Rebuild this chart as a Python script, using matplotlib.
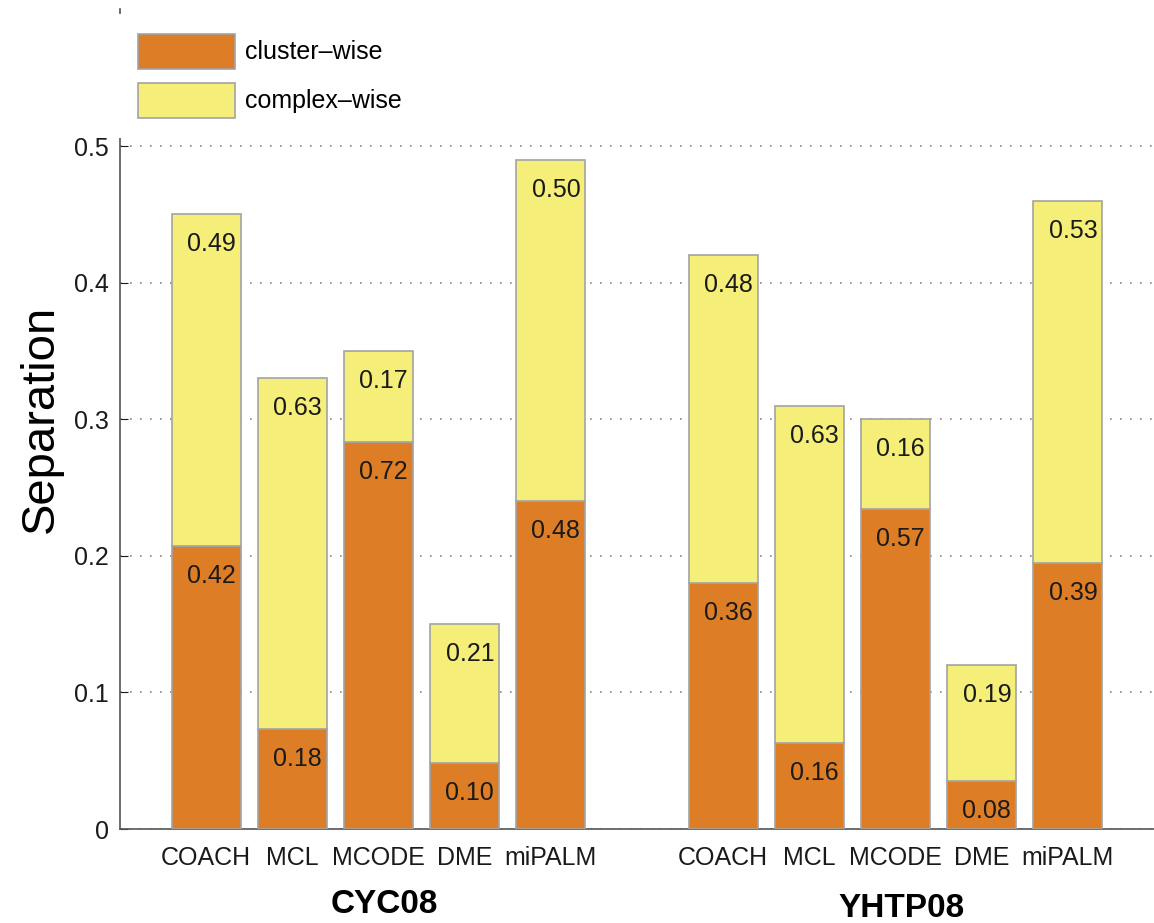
import numpy as np
import matplotlib
matplotlib.use("Agg")
import matplotlib.pyplot as plt

plt.rcParams['font.family'] = ['Liberation Sans', 'DejaVu Sans']

methods = ["COACH", "MCL", "MCODE", "DME", "miPALM"]
datasets = ["CYC08", "YHTP08"]

# bar heights (separation) per dataset
cluster_cyc = [0.207, 0.073, 0.283, 0.048, 0.240]
total_cyc = [0.450, 0.330, 0.350, 0.150, 0.490]
cluster_yhtp = [0.180, 0.063, 0.234, 0.035, 0.195]
total_yhtp = [0.420, 0.310, 0.300, 0.120, 0.460]

# printed labels
cluster_lab_cyc = ["0.42", "0.18", "0.72", "0.10", "0.48"]
complex_lab_cyc = ["0.49", "0.63", "0.17", "0.21", "0.50"]
cluster_lab_yhtp = ["0.36", "0.16", "0.57", "0.08", "0.39"]
complex_lab_yhtp = ["0.48", "0.63", "0.16", "0.19", "0.53"]

orange = "#dd7e26"
yellow = "#f5ef7a"
edge = "#a3a3a3"

fig = plt.figure(figsize=(11.54, 9.23), dpi=100)
ax = fig.add_axes([0.104, 0.1018, 0.896, 0.888])

x_cyc = np.arange(1, 6)
x_yhtp = np.arange(7, 12)
x_all = np.concatenate([x_cyc, x_yhtp])
cluster = np.array(cluster_cyc + cluster_yhtp)
total = np.array(total_cyc + total_yhtp)
complex_part = total - cluster

ax.bar(x_all, cluster, width=0.8, color=orange, edgecolor=edge, linewidth=1.2,
       label="cluster\u2013wise", zorder=3)
ax.bar(x_all, complex_part, bottom=cluster, width=0.8, color=yellow, edgecolor=edge,
       linewidth=1.2, label="complex\u2013wise", zorder=3)

labels_cluster = cluster_lab_cyc + cluster_lab_yhtp
labels_complex = complex_lab_cyc + complex_lab_yhtp
for xi, c, t, lc, lt in zip(x_all, cluster, total, labels_cluster, labels_complex):
    ax.annotate(lc, (xi + 0.4, c), xytext=(-3.6, -21.6), textcoords='offset points',
                ha='right', va='center', fontsize=18, color='#1a1a1a', zorder=4)
    ax.annotate(lt, (xi + 0.4, t), xytext=(-3.6, -21.6), textcoords='offset points',
                ha='right', va='center', fontsize=18, color='#1a1a1a', zorder=4)

ax.set_xlim(0, 12)
ax.set_ylim(0, 0.6)
ax.set_yticks([0, 0.1, 0.2, 0.3, 0.4, 0.5])
ax.set_yticklabels(["0", "0.1", "0.2", "0.3", "0.4", "0.5"])
ax.set_xticks(x_all)
ax.set_xticklabels(methods + methods)
ax.tick_params(axis='x', length=0, pad=12, labelsize=18, colors='#1a1a1a')
ax.tick_params(axis='y', direction='in', length=6, labelsize=18, colors='#1a1a1a',
               pad=8)

for s in ['top', 'right']:
    ax.spines[s].set_visible(False)
for s in ['left', 'bottom']:
    ax.spines[s].set_color('#555555')
    ax.spines[s].set_linewidth(1.2)

ax.yaxis.grid(True, linestyle=(0, (1, 5)), color='#888888', linewidth=1.2, zorder=0)
ax.set_axisbelow(True)

# dataset group names under the method labels
ax.annotate(datasets[0], (3, 0), xytext=(4, -54), textcoords='offset points',
            ha='center', va='center', fontsize=24, fontweight='bold')
ax.annotate(datasets[1], (9, 0), xytext=(4, -57), textcoords='offset points',
            ha='center', va='center', fontsize=24, fontweight='bold')

fig.text(0.0355, 0.546, "Separation", rotation=90, ha='center', va='center',
         fontsize=34)

leg = ax.legend(loc='upper left', bbox_to_anchor=(0.102, 0.985),
                bbox_transform=fig.transFigure, fontsize=18, frameon=True,
                handlelength=3.9, handleheight=1.78, labelspacing=0.56,
                handletextpad=0.4, borderpad=0.8, borderaxespad=0)
leg.get_frame().set_facecolor('white')
leg.get_frame().set_edgecolor('none')
leg.get_frame().set_alpha(1)
leg.get_frame().set_boxstyle('square', pad=0)
leg.set_zorder(10)

fig.savefig("out.png", dpi=100)
